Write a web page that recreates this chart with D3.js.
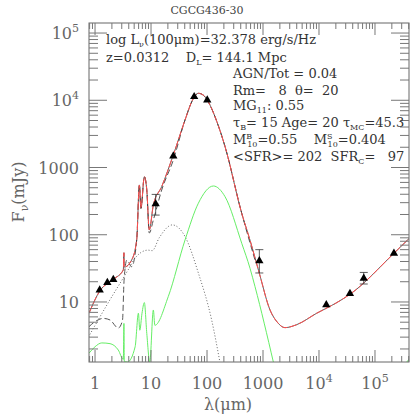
<!DOCTYPE html>
<html>
<head>
<meta charset="utf-8">
<style>
  body { margin: 0; background: #fff; }
  svg { font-family: 'DejaVu Serif', 'Liberation Serif', serif; }
  .tick-label { font-size: 16px; fill: #666; }
  .note { font-size: 13px; fill: #333; white-space: pre; }
</style>
</head>
<body>
<svg width="415" height="420"></svg>
<script src="https://d3js.org/d3.v7.min.js"></script>
<script>
// observed photometry (lambda in micron, flux in mJy)
const obsLam = [1.21, 1.66, 2.12, 12.1, 25, 59, 101, 860, 13500, 35700, 63000, 218000];
const obsFlux = [15, 19.4, 21.5, 287, 1480, 11300, 10100, 41, 9.1, 13.3, 22.5, 53];
const errLo = [null, null, null, 196, null, null, null, 27, null, null, 18.5, null];
const errHi = [null, null, null, 398, null, null, null, 60, null, null, 27.5, null];

// total model
const totLam = [0.78, 1.21, 2.12, 3.2, 3.28, 3.3, 3.33, 4.5, 5.55, 6.2, 6.6, 7.6, 8.4, 9.3, 11, 15.5, 25, 40.5, 55, 70, 85, 105, 150, 210, 417, 586, 860, 1334, 1800, 2470, 4000, 9100, 20000, 35700, 218000, 410000];
const totFlux = [6.8, 14.5, 21.7, 29.9, 54, 40, 33, 42, 84, 550, 247, 730, 462, 118, 277, 519, 1535, 5090, 10000, 12700, 12000, 9520, 4800, 2040, 208, 83, 26.7, 7.6, 5.0, 4.15, 4.6, 6.8, 9.6, 13, 53, 88.5];

// starburst component (dashed)
const sbLam = [0.78, 1, 1.4, 1.85, 2.6, 3.0, 3.1, 3.3, 3.7, 4.5, 5.55, 6.2, 6.6, 7.6, 8.4, 9.3, 11, 15.5, 25, 40.5, 55, 70, 85, 105, 150, 210, 417, 720];
const sbFlux = [4.3, 5.1, 5.7, 5.4, 4.1, 4.9, 5.4, 21, 42, 33.5, 84, 550, 247, 730, 462, 106, 166, 462, 1294, 5090, 10000, 12700, 12000, 9520, 4800, 2040, 208, 42];

// AGN torus component (dotted)
const agnLam = [0.76, 1.7, 3.9, 5.2, 8.8, 10.5, 14, 24, 40.5, 70, 121, 170];
const agnFlux = [3, 9.6, 30, 45, 59, 58, 90, 140, 94, 27, 5.4, 1.27];

// cirrus component (green)
const cirLam = [0.78, 1, 1.32, 1.85, 2.6, 3.2, 3.28, 3.33, 3.8, 5.2, 5.95, 6.3, 6.9, 7.6, 8.4, 9.5, 11, 11.7, 20.3, 40.5, 70, 130, 210, 417, 586, 720, 1530];
const cirFlux = [1.73, 2.16, 2.46, 2.4, 1.93, 1.4, 4.8, 1.3, 1.28, 2.16, 6.8, 3.8, 6.8, 9.8, 3.4, 1.28, 7.6, 4.5, 12, 83.6, 294, 531, 368, 74.6, 31.7, 16.9, 1.28];
const cirLam2 = [370000, 460000];
const cirFlux2 = [1.28, 1.6];

const xTicks = [1, 10, 100, 1000, 1e4, 1e5];
const yTicks = [10, 100, 1000, 1e4, 1e5];

const mLeft = 89, mRight = 409, mTop = 23, mBottom = 362;
const svg = d3.select("svg");

const x = d3.scaleLog().domain([0.78, 4.05e5]).range([mLeft, mRight]);
const y = d3.scaleLog().domain([1.28, 1.41e5]).range([mBottom, mTop]);

svg.append("defs").append("clipPath").attr("id", "clip")
  .append("rect").attr("x", mLeft).attr("y", mTop).attr("width", mRight - mLeft).attr("height", mBottom - mTop);

const plot = svg.append("g").attr("clip-path", "url(#clip)");
const line = d3.line().x(d => x(d[0])).y(d => y(d[1])).curve(d3.curveMonotoneX);
const zip = (a, b) => a.map((v, i) => [v, b[i]]);

plot.append("path").attr("d", line(zip(agnLam, agnFlux)))
  .style("fill", "none").style("stroke", "#666").style("stroke-width", 1).style("stroke-dasharray", "1,2");
plot.append("path").attr("d", line(zip(cirLam, cirFlux)))
  .style("fill", "none").style("stroke", "#66ee66").style("stroke-width", 1);
plot.append("path").attr("d", line(zip(cirLam2, cirFlux2)))
  .style("fill", "none").style("stroke", "#66ee66").style("stroke-width", 1);
plot.append("path").attr("d", line(zip(sbLam, sbFlux)))
  .style("fill", "none").style("stroke", "#555").style("stroke-width", 1).style("stroke-dasharray", "6,3");
plot.append("path").attr("d", line(zip(totLam, totFlux)))
  .style("fill", "none").style("stroke", "#333").style("stroke-width", 0.8);
plot.append("path").attr("d", line(zip(totLam, totFlux)))
  .style("fill", "none").style("stroke", "#ff5050").style("stroke-width", 1).style("stroke-dasharray", "8,2");

// error bars
obsLam.forEach((l, i) => {
  if (errLo[i] == null) return;
  const cx = x(l);
  plot.append("line").attr("x1", cx).attr("x2", cx).attr("y1", y(errLo[i])).attr("y2", y(errHi[i]))
    .style("stroke", "#333").style("stroke-width", 0.8);
  [errLo[i], errHi[i]].forEach(v => plot.append("line")
    .attr("x1", cx - 4).attr("x2", cx + 4).attr("y1", y(v)).attr("y2", y(v))
    .style("stroke", "#333").style("stroke-width", 0.8));
});

plot.selectAll(".pt").data(zip(obsLam, obsFlux)).join("path")
  .attr("transform", d => `translate(${x(d[0])},${y(d[1])})`)
  .attr("d", d3.symbol(d3.symbolTriangle, 30))
  .style("fill", "#000");

// frame and ticks
svg.append("rect").attr("x", mLeft).attr("y", mTop).attr("width", mRight - mLeft).attr("height", mBottom - mTop)
  .style("fill", "none").style("stroke", "#666").style("stroke-width", 1);

const tk = svg.append("g").style("stroke", "#777").style("stroke-width", 1);
const minorX = [];
for (let e = -1; e <= 5; e++) for (let m = 1; m < 10; m++) {
  const v = m * Math.pow(10, e);
  if (v >= 0.78 && v <= 4.05e5) minorX.push(v);
}
minorX.forEach(v => {
  const len = xTicks.includes(v) ? 12 : 6;
  tk.append("line").attr("x1", x(v)).attr("x2", x(v)).attr("y1", mBottom).attr("y2", mBottom - len);
  tk.append("line").attr("x1", x(v)).attr("x2", x(v)).attr("y1", mTop).attr("y2", mTop + len);
});
const minorY = [];
for (let e = 0; e <= 5; e++) for (let m = 1; m < 10; m++) {
  const v = m * Math.pow(10, e);
  if (v >= 1.28 && v <= 1.41e5) minorY.push(v);
}
minorY.forEach(v => {
  const len = yTicks.includes(v) ? 18 : 9;
  tk.append("line").attr("x1", mLeft).attr("x2", mLeft + len).attr("y1", y(v)).attr("y2", y(v));
  tk.append("line").attr("x1", mRight).attr("x2", mRight - len).attr("y1", y(v)).attr("y2", y(v));
});

const fmtTick = (g, v) => {
  const e = Math.round(Math.log10(v));
  if (e <= 3) g.text(String(v));
  else {
    g.append("tspan").text("10");
    g.append("tspan").attr("dy", -7).style("font-size", "11px").text(e);
  }
};
xTicks.forEach(v => {
  const t = svg.append("text").attr("class", "tick-label").attr("x", x(v)).attr("y", mBottom + 27)
    .attr("text-anchor", "middle");
  fmtTick(t, v);
});
yTicks.forEach(v => {
  const t = svg.append("text").attr("class", "tick-label").attr("x", mLeft - 10).attr("y", y(v) + 6)
    .attr("text-anchor", "end");
  fmtTick(t, v);
});

// axis titles
svg.append("text").attr("x", 207).attr("y", 14).attr("text-anchor", "middle")
  .style("font-size", "11px").style("fill", "#444").text("CGCG436-30");
const yl = svg.append("text").attr("transform", "translate(24,192) rotate(-90)").attr("text-anchor", "middle")
  .style("font-size", "16px").style("fill", "#666");
yl.append("tspan").text("F");
yl.append("tspan").attr("dy", 4).style("font-size", "11px").text("ν");
yl.append("tspan").attr("dy", -4).text("(mJy)");
svg.append("text").attr("x", 228).attr("y", 410).attr("text-anchor", "middle")
  .style("font-size", "16px").style("fill", "#666").text("λ(μm)");

// annotations: parts are [text, dy, dx, size]
function note(xp, yp, parts) {
  const t = svg.append("text").attr("class", "note").attr("x", xp).attr("y", yp);
  parts.forEach(p => {
    const s = t.append("tspan").text(p[0]);
    if (p[1]) s.attr("dy", p[1]);
    if (p[2]) s.attr("dx", p[2]);
    if (p[3]) s.style("font-size", p[3] + "px");
  });
}
note(106, 44, [["log L"], ["ν", 3, 0, 8], ["(100μm)=32.378 erg/s/Hz", -3]]);
note(106, 62, [["z=0.0312    D"], ["L", 3, 0, 8], ["= 144.1 Mpc", -3]]);
note(233, 78, [["AGN/Tot = 0.04"]]);
note(233, 95, [["Rm=   8  θ=  20"]]);
note(233, 110, [["MG"], ["11", 3, 0, 8], [": 0.55", -3]]);
note(233, 127, [["τ"], ["B", 3, 0, 8], ["= 15 Age= 20 τ", -3], ["MC", 3, 0, 8], ["=45.3", -3]]);
note(233, 144, [["M"], ["B", -5, 0, 8], ["10", 8, -5, 8], ["=0.55    M", -3], ["S", -5, 0, 8], ["10", 8, -5, 8], ["=0.404", -3]]);
note(233, 161, [["<SFR>= 202  SFR"], ["C", 3, 0, 8], ["=   97", -3]]);
</script>
</body>
</html>
